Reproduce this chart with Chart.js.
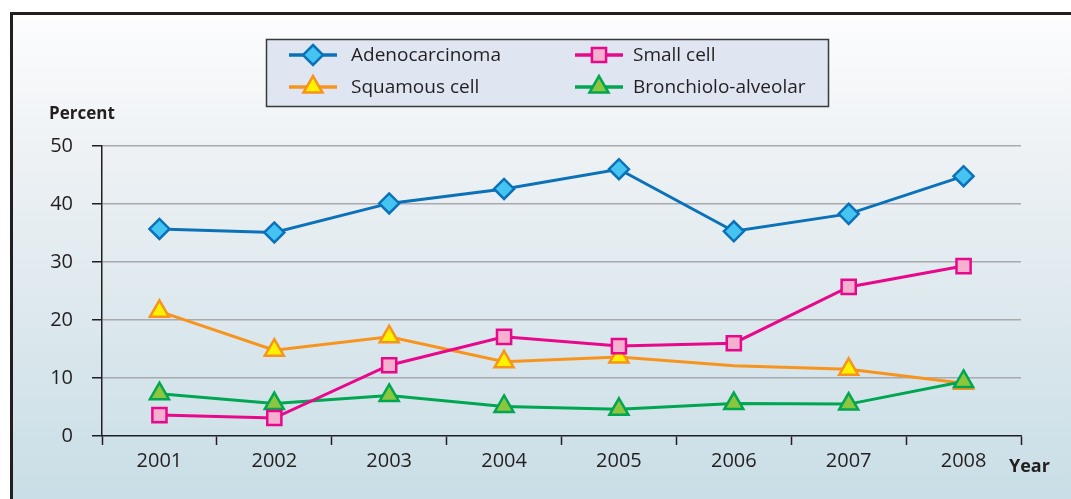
<!DOCTYPE html>
<html><head><meta charset="utf-8">
<script src="https://cdn.jsdelivr.net/npm/chart.js@4"></script>
<style>html,body{margin:0;padding:0;background:#fff}#wrap{width:1071px;height:499px;position:relative}</style>
</head><body><div id="wrap"><canvas id="c" width="1071" height="499"></canvas></div>
<script>
const years = ['2001','2002','2003','2004','2005','2006','2007','2008'];
const adenocarcinoma = [35.7, 35.1, 40.1, 42.6, 46.0, 35.3, 38.3, 44.8];
const smallCell = [3.6, 3.1, 12.2, 17.1, 15.5, 16.0, 25.7, 29.3];
const squamousCell = [21.5, 14.8, 17.1, 12.8, 13.6, 12.1, 11.5, 9.1];
const bronchioloAlveolar = [7.3, 5.6, 7.0, 5.1, 4.6, 5.6, 5.5, 9.4];
const yTicks = [0, 10, 20, 30, 40, 50];
const seriesNames = ['Adenocarcinoma', 'Small cell', 'Squamous cell', 'Bronchiolo-alveolar'];
const yTitle = 'Percent';
const xTitle = 'Year';

const FONT = '"Open Sans", "Noto Sans", sans-serif';
const TXT = '#231f20';

const styles = [
  {border:'#0b72b9', bg:'#45c4f2', point:'rectRot', r:10},
  {border:'#e8088b', bg:'#f5b0cf', point:'rect', r:10},
  {border:'#f7941d', bg:'#fff200', point:'triangle', r:11},
  {border:'#00a651', bg:'#8cc63e', point:'triangle', r:11}
];
const values = [adenocarcinoma, smallCell, squamousCell, bronchioloAlveolar];
const orders = [2, 1, 4, 3];
const squamousMarkerShown = [1,1,1,1,1,0,1,1];

const datasets = values.map((v, i) => ({
  label: seriesNames[i],
  data: v,
  borderColor: styles[i].border,
  backgroundColor: styles[i].bg,
  borderWidth: 3,
  pointStyle: styles[i].point,
  pointRadius: i === 2 ? squamousMarkerShown.map(s => s ? styles[i].r : 0) : styles[i].r,
  pointBorderWidth: 2.5,
  pointBackgroundColor: styles[i].bg,
  pointBorderColor: styles[i].border,
  tension: 0,
  order: orders[i]
}));

function drawMarker(ctx, style, x, y, r) {
  ctx.beginPath();
  if (style === 'rectRot') {
    ctx.moveTo(x, y - r); ctx.lineTo(x + r, y); ctx.lineTo(x, y + r); ctx.lineTo(x - r, y);
  } else if (style === 'rect') {
    const s = r * Math.SQRT1_2;
    ctx.rect(x - s, y - s, 2 * s, 2 * s);
  } else {
    const a = Math.PI / 2;
    for (let k = 0; k < 3; k++) {
      const ang = -a + k * 2 * Math.PI / 3;
      const px = x + Math.cos(ang) * r, py = y + Math.sin(ang) * r;
      if (k === 0) ctx.moveTo(px, py); else ctx.lineTo(px, py);
    }
  }
  ctx.closePath();
  ctx.fill(); ctx.stroke();
}

const bgPlugin = {
  id: 'bgPlugin',
  beforeDraw(chart) {
    const ctx = chart.ctx;
    ctx.save();
    ctx.fillStyle = '#ffffff';
    ctx.fillRect(0, 0, 1071, 499);
    const g = ctx.createLinearGradient(0, 13, 0, 499);
    g.addColorStop(0, '#fdfdfe');
    g.addColorStop(0.3, '#edf1f4');
    g.addColorStop(1, '#c9dee6');
    ctx.fillStyle = g;
    ctx.fillRect(11, 13, 1060, 486);
    ctx.strokeStyle = TXT;
    ctx.lineWidth = 3;
    ctx.beginPath();
    ctx.moveTo(11.5, 499); ctx.lineTo(11.5, 13.5); ctx.lineTo(1071, 13.5);
    ctx.stroke();
    ctx.restore();
  },
  afterDraw(chart) {
    const ctx = chart.ctx;
    ctx.save();
    // axis titles
    ctx.fillStyle = TXT;
    ctx.font = 'bold 17px ' + FONT;
    ctx.textBaseline = 'middle';
    ctx.textAlign = 'left';
    ctx.fillText(yTitle, 49, 114);
    ctx.font = 'bold 18px ' + FONT;
    ctx.fillText(xTitle, 1009, 467);
    // legend
    ctx.fillStyle = '#dfe5f1';
    ctx.fillRect(266, 39, 563, 68);
    ctx.strokeStyle = '#3a3a3a';
    ctx.lineWidth = 1.5;
    ctx.strokeRect(266.5, 39.5, 562, 67);
    const pos = [[313, 351, 55], [599, 633, 55], [313, 351, 87], [599, 633, 87]];
    datasets.forEach((d, i) => {
      const [cx, tx, y] = pos[i];
      ctx.strokeStyle = d.borderColor;
      ctx.lineWidth = 3.5;
      ctx.beginPath(); ctx.moveTo(cx - 24, y); ctx.lineTo(cx + 24, y); ctx.stroke();
      ctx.fillStyle = d.backgroundColor;
      ctx.lineWidth = 2.5;
      drawMarker(ctx, d.pointStyle, cx, y, styles[i].r);
      ctx.fillStyle = TXT;
      ctx.font = '19px ' + FONT;
      ctx.textAlign = 'left';
      ctx.textBaseline = 'middle';
      ctx.fillText(d.label, tx, y + 1);
    });
    ctx.restore();
  }
};

new Chart(document.getElementById('c'), {
  type: 'line',
  data: { labels: years, datasets },
  options: {
    responsive: false,
    animation: false,
    devicePixelRatio: 1,
    layout: { padding: { left: 0, top: 146, right: 50, bottom: 0 } },
    plugins: { legend: { display: false }, tooltip: { enabled: false }, title: { display: false } },
    scales: {
      x: {
        type: 'category',
        offset: true,
        afterFit(s) { s.height = 63; },
        grid: { offset: true, drawOnChartArea: false, drawTicks: true, tickLength: 9, tickColor: TXT, tickWidth: 1.5 },
        border: { display: true, color: TXT, width: 1.5 },
        ticks: { color: TXT, font: { family: FONT, size: 20 }, padding: 4, maxRotation: 0 }
      },
      y: {
        min: 0, max: 50,
        afterFit(s) { s.width = 102; },
        afterBuildTicks(s) { s.ticks = yTicks.map(v => ({ value: v })); },
        grid: {
          color: c => (c.tick && c.tick.value === 0) ? 'rgba(0,0,0,0)' : '#a8aaad',
          lineWidth: 1.5, drawTicks: true, tickLength: 10, tickColor: TXT, tickWidth: 1.5
        },
        border: { display: true, color: TXT, width: 1.5 },
        ticks: { color: TXT, font: { family: FONT, size: 20 }, padding: 19 }
      }
    }
  },
  plugins: [bgPlugin]
});
</script>
</body></html>
